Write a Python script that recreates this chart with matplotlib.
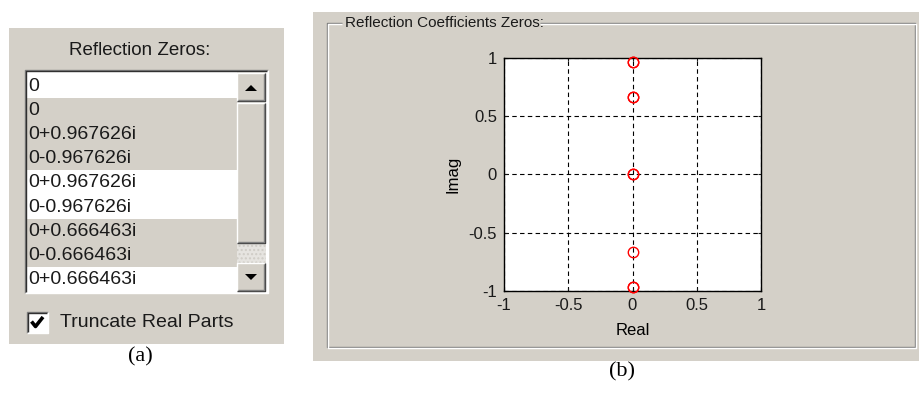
import matplotlib.pyplot as plt
from matplotlib.patches import Rectangle, Polygon

# zeros shown in the list box and on the plot
zero_real = [0, 0, 0, 0, 0, 0, 0, 0, 0]
zero_imag = [0, 0, 0.967626, -0.967626, 0.967626, -0.967626, 0.666463, -0.666463, 0.666463]
white_rows = [0, 4, 5, 8]

axis_ticks = [-1, -0.5, 0, 0.5, 1]
tick_labels = ['-1', '-0.5', '0', '0.5', '1']

GRAY = '#D4D0C8'
DARK = '#808080'
BLACK = '#000000'
GUI_FONT = 'Liberation Sans'


def zero_label(re, im):
    if im == 0:
        return '%g' % re
    return '%g%+gi' % (re, im)


fig = plt.figure(figsize=(9.19, 3.94), dpi=100)
fig.patch.set_facecolor('white')

# pixel-space canvas for the dialog widgets
bg = fig.add_axes([0, 0, 1, 1])
bg.set_xlim(0, 919)
bg.set_ylim(394, 0)
bg.axis('off')


def box(x0, y0, x1, y1, color, z=1):
    bg.add_patch(Rectangle((x0, y0), x1 - x0, y1 - y0, facecolor=color,
                           edgecolor='none', zorder=z))


def line(xs, ys, color, z=3, lw=1.0):
    bg.plot(xs, ys, color=color, lw=lw, zorder=z, solid_capstyle='butt')


def raised(x0, y0, x1, y1):
    box(x0, y0, x1, y1, GRAY, z=2)
    line([x0, x0, x1], [y1, y0, y0], 'white')
    line([x0, x1, x1], [y1, y1, y0], '#404040')
    line([x0 + 1, x1 - 1, x1 - 1], [y1 - 1, y1 - 1, y0 + 1], DARK)


def sunken(x0, y0, x1, y1):
    line([x0, x0, x1], [y1, y0, y0], DARK)
    line([x0 + 1.2, x0 + 1.2, x1 - 1], [y1 - 1, y0 + 1.2, y0 + 1.2], '#303030')
    line([x0, x1, x1], [y1, y1, y0], 'white')


# ---- (a) list box panel ----
box(9, 28, 284, 344, GRAY)
bg.text(140, 50, 'Reflection Zeros:', ha='center', va='center',
        fontsize=13.5, family=GUI_FONT, color='#1a1a1a', zorder=5)

row_h = 24.2
top = 73.5
box(25, 70, 268, 293, 'white', z=1.5)
for i, (re, im) in enumerate(zip(zero_real, zero_imag)):
    y0 = top + i * row_h
    box(27, y0, 237, y0 + row_h, 'white' if i in white_rows else GRAY, z=2)
    bg.text(28, y0 + row_h / 2 + 0.5, zero_label(re, im), ha='left', va='center',
            fontsize=14, family=GUI_FONT, color='#1a1a1a', zorder=5)
sunken(25, 70, 268, 293)

# scroll bar with stippled track
box(237, 72, 266, 291, '#E9E7E3', z=1.8)
bg.add_patch(Rectangle((237, 243), 29, 20, facecolor='#E6E4E0', edgecolor='#CFCCC6',
                       hatch='....', lw=0, zorder=1.9))
raised(237, 73, 265, 101)
bg.add_patch(Polygon([[245, 91], [257, 91], [251, 85]], closed=True,
                     facecolor=BLACK, edgecolor='none', zorder=6))
raised(237, 103, 265, 243)
raised(237, 263, 265, 291)
bg.add_patch(Polygon([[245, 274], [257, 274], [251, 280]], closed=True,
                     facecolor=BLACK, edgecolor='none', zorder=6))

# check box
box(27, 312, 48, 333, 'white', z=2)
sunken(27, 312, 48, 333)
line([31.5, 35.5, 43], [321.5, 326.5, 317], BLACK, z=6, lw=2.6)
bg.text(60, 322.5, 'Truncate Real Parts', ha='left', va='center',
        fontsize=14, family=GUI_FONT, color='#1a1a1a', zorder=5)

# ---- (b) plot panel ----
box(313, 12, 919, 361, GRAY)
# etched group frame with title gap
for off, col in ((0, DARK), (1, 'white')):
    line([342, 327 + off, 327 + off, 915 + off, 915 + off, 540],
         [23 + off, 23 + off, 347 + off, 347 + off, 23 + off, 23 + off], col)
bg.text(345, 23, 'Reflection Coefficients Zeros:', ha='left', va='center',
        fontsize=11, family=GUI_FONT, color='#1a1a1a', zorder=5)

# captions
bg.text(140, 357, '(a)', ha='center', va='center', fontsize=16,
        family='Liberation Serif', color=BLACK)
bg.text(622, 372, '(b)', ha='center', va='center', fontsize=16,
        family='Liberation Serif', color=BLACK)

# zero plot
ax = fig.add_axes([504 / 919, (394 - 291) / 394, 257 / 919, 233 / 394])
ax.set_facecolor('white')
ax.plot(zero_real, zero_imag, 'o', mfc='none', mec='red', ms=7.5, mew=1.0,
        clip_on=False, zorder=5)
ax.set_xlim(-1, 1)
ax.set_ylim(-1, 1)
ax.set_xticks(axis_ticks)
ax.set_xticklabels(tick_labels)
ax.set_yticks(axis_ticks)
ax.set_yticklabels(tick_labels)
ax.grid(True, color=BLACK, linestyle=(0, (4, 3)), lw=0.8)
ax.tick_params(direction='in', length=2, width=0.8, pad=5, labelsize=12,
               colors='#1a1a1a', top=True, right=True)
for lbl in ax.get_xticklabels() + ax.get_yticklabels():
    lbl.set_family(GUI_FONT)
for sp in ax.spines.values():
    sp.set_linewidth(1.0)
ax.set_xlabel('Real', fontsize=12, family=GUI_FONT, labelpad=7)
ax.set_ylabel('Imag', fontsize=12, family=GUI_FONT, labelpad=6)

fig.savefig('out.png', dpi=100)
